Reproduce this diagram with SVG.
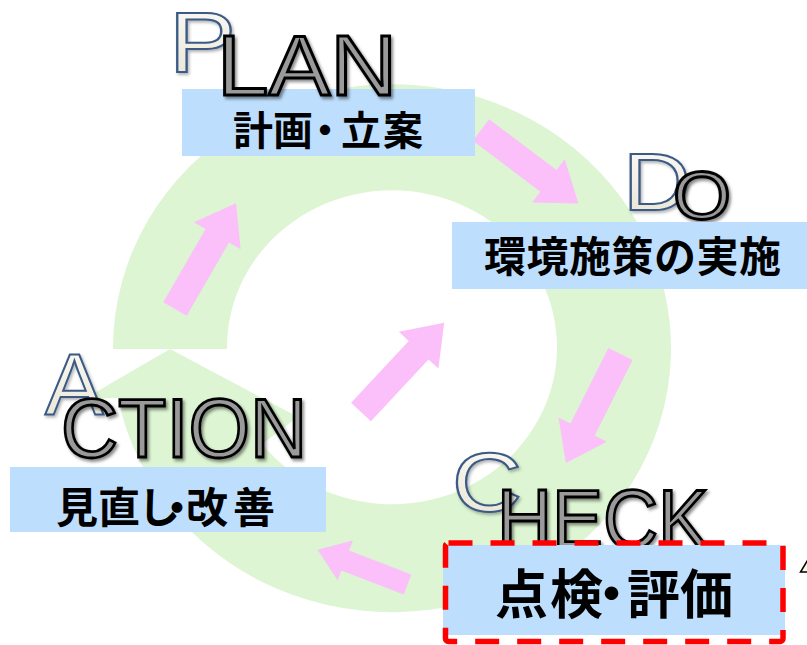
<svg xmlns="http://www.w3.org/2000/svg" width="807" height="645" viewBox="0 0 807 645">
<defs>
<style>
.lbl{font-family:"Noto Sans CJK JP","Noto Sans CJK SC",sans-serif;font-weight:700;fill:#000}
.big{font-family:"Liberation Sans",Arial,sans-serif}
.gray{fill:#9A9A9A;stroke:#000;stroke-width:2.8;filter:url(#sh)}
.out{fill:url(#cream);stroke:#3A5A85;stroke-width:2;filter:url(#sh2)}
.box{fill:#BDDEFC}
.arr{fill:#FBBFFA}
</style>
<linearGradient id="cream" x1="0" y1="0" x2="0" y2="1">
<stop offset="0" stop-color="#FCFBF6"/>
<stop offset="1" stop-color="#E8E4D2"/>
</linearGradient>
<filter id="sh" x="-10%" y="-10%" width="130%" height="140%">
<feDropShadow dx="2" dy="2.5" stdDeviation="1.5" flood-color="#000" flood-opacity="0.45"/>
</filter>
<filter id="sh2" x="-15%" y="-15%" width="140%" height="140%">
<feDropShadow dx="1.5" dy="2" stdDeviation="1.5" flood-color="#000" flood-opacity="0.3"/>
</filter>
<path id="arrow" d="M0,-13.5 H84.5 V-27 L122,0 L84.5,27 V13.5 H0 Z"/>
</defs>
<rect width="807" height="645" fill="#fff"/>
<g id="ring">
<path fill="#DDF5D3" d="M113,349 A279 264 0 1 1 118,398 L84,399 L170,349 L298,417 L262,444 A165 157 0 1 0 227,349 Z"/>
</g>
<g id="connectors" class="arr">
<use href="#arrow" transform="translate(175,309) rotate(-60)"/>
<use href="#arrow" transform="translate(481,130) rotate(37)"/>
<use href="#arrow" transform="translate(620.5,354) rotate(116.6)"/>
<use href="#arrow" transform="translate(407.5,584.5) rotate(201.1) scale(0.79)"/>
<use href="#arrow" transform="translate(361,412) rotate(-47)"/>
</g>
<g id="plan">
<text class="big out" x="169" y="72" font-size="86" textLength="67" lengthAdjust="spacingAndGlyphs">P</text>
<rect class="box" x="182" y="89" width="293" height="67"/>
<text class="big gray" x="217" y="95" font-size="86" textLength="180" lengthAdjust="spacingAndGlyphs">LAN</text>
<text class="lbl" x="233 273 305 341 383" y="145" font-size="40">計画・立案</text>
</g>
<g id="do">
<text class="big out" x="623" y="210" font-size="81" textLength="68" lengthAdjust="spacingAndGlyphs">D</text>
<text class="big gray" x="673" y="219" font-size="68" textLength="58" lengthAdjust="spacingAndGlyphs">O</text>
<rect class="box" x="452" y="222" width="355" height="67"/>
<text class="lbl" x="484 526.5 569 611.5 654 696.5 739" y="272" font-size="42">環境施策の実施</text>
</g>
<g id="action">
<text class="big out" x="45" y="415" font-size="88">A</text>
<text class="big gray" x="61" y="457" font-size="84" textLength="246" lengthAdjust="spacingAndGlyphs">CTION</text>
<rect class="box" x="10" y="467" width="316" height="65"/>
<text class="lbl" x="56 98 138 156 186 233" y="523" font-size="42">見直し・改善</text>
</g>
<g id="check">
<text class="big out" x="452" y="511" font-size="84" textLength="70" lengthAdjust="spacingAndGlyphs">C</text>
<text class="big gray" x="497" y="548" font-size="84" textLength="212" lengthAdjust="spacingAndGlyphs">HECK</text>
<rect class="box" x="443" y="545" width="342" height="90"/>
<rect x="445.5" y="543" width="337.5" height="98.5" rx="3" fill="none" stroke="#FF0000" stroke-width="5.5" stroke-dasharray="24 18"/>
<text class="lbl" x="495 550 585 627 680" y="614" font-size="53">点検・評価</text>
</g>
<g id="callout">
<polygon points="809,558 800.5,572 809,572" fill="#FBF8E0" stroke="#000" stroke-width="1.5"/>
</g>
</svg>
